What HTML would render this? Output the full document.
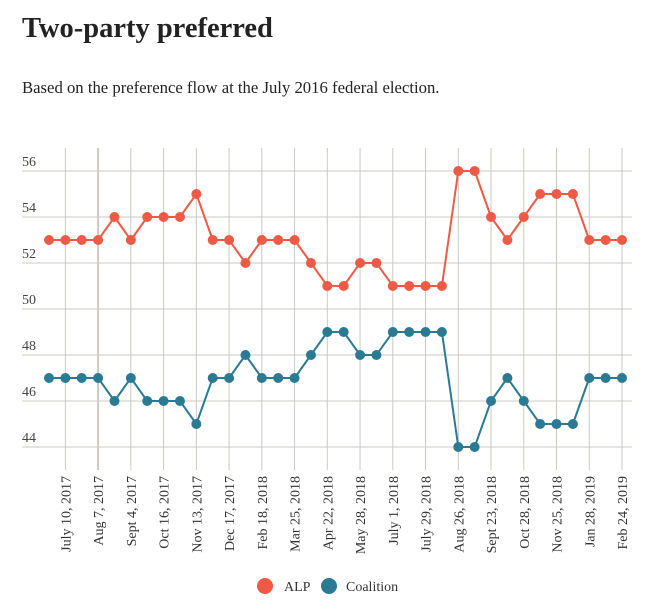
<!DOCTYPE html>
<html><head><meta charset="utf-8"><style>
body{margin:0;background:#fff;width:651px;height:614px;overflow:hidden;font-family:"Liberation Serif",serif;}
h1{position:absolute;left:22px;top:13px;margin:0;font-size:28.5px;font-weight:bold;color:#222;}
p{position:absolute;left:22px;top:78px;margin:0;font-size:16.7px;color:#222;}
svg{position:absolute;left:0;top:0;}
</style></head><body>
<h1>Two-party preferred</h1>
<p>Based on the preference flow at the July 2016 federal election.</p>
<svg id="c" width="651" height="614" font-family="Liberation Serif, serif"></svg>
<script>
const alp=[53,53,53,53,54,53,54,54,54,55,53,53,52,53,53,53,52,51,51,52,52,51,51,51,51,56,56,54,53,54,55,55,55,53,53,53];
const coalition=[47,47,47,47,46,47,46,46,46,45,47,47,48,47,47,47,48,49,49,48,48,49,49,49,49,44,44,46,47,46,45,45,45,47,47,47];
const tickLabels=["July 10, 2017","Aug 7, 2017","Sept 4, 2017","Oct 16, 2017","Nov 13, 2017","Dec 17, 2017","Feb 18, 2018","Mar 25, 2018","Apr 22, 2018","May 28, 2018","July 1, 2018","July 29, 2018","Aug 26, 2018","Sept 23, 2018","Oct 28, 2018","Nov 25, 2018","Jan 28, 2019","Feb 24, 2019"];
const yTicks=[44,46,48,50,52,54,56];
const svg=document.getElementById('c');const NS='http://www.w3.org/2000/svg';
function mk(t,a,p){const e=document.createElementNS(NS,t);for(const k in a)e.setAttribute(k,a[k]);(p||svg).appendChild(e);return e;}
const x=i=>49+i*(622-49)/35;
const y=v=>447-(v-44)*23;
yTicks.forEach(v=>{
const l=mk('line',{x1:22,x2:632,y1:y(v),y2:y(v),stroke:'#cbc9c0','stroke-width':1});

const t=mk('text',{x:22,y:y(v)-5,'font-size':14,fill:'#444'});t.textContent=v;

});
tickLabels.forEach((s,k)=>{
const xi=x(2*k+1);
const l=mk('line',{x1:xi,x2:xi,y1:148,y2:470,stroke:'#cbc9c0','stroke-width':k==1?2:1});

const t=mk('text',{x:0,y:0,'font-size':14,fill:'#333','text-anchor':'end',transform:`translate(${xi+5},476) rotate(-90)`});t.textContent=s;

});
function series(d,col,name){
const pl=mk('polyline',{points:d.map((v,i)=>x(i)+','+y(v)).join(' '),fill:'none',stroke:col,'stroke-width':2});

d.forEach((v,i)=>{const c=mk('circle',{cx:x(i),cy:y(v),r:5,fill:col});
});
}
series(alp,'#ee5a45','alp');
series(coalition,'#2a7a94','coalition');
const g1=mk('circle',{cx:265,cy:586,r:8,fill:'#ee5a45'});
const t1=mk('text',{x:284,y:591,'font-size':14,fill:'#333'});t1.textContent='ALP';
const g2=mk('circle',{cx:329,cy:586,r:8,fill:'#2a7a94'});
const t2=mk('text',{x:346,y:591,'font-size':14,fill:'#333'});t2.textContent='Coalition';
</script>
</body></html>
